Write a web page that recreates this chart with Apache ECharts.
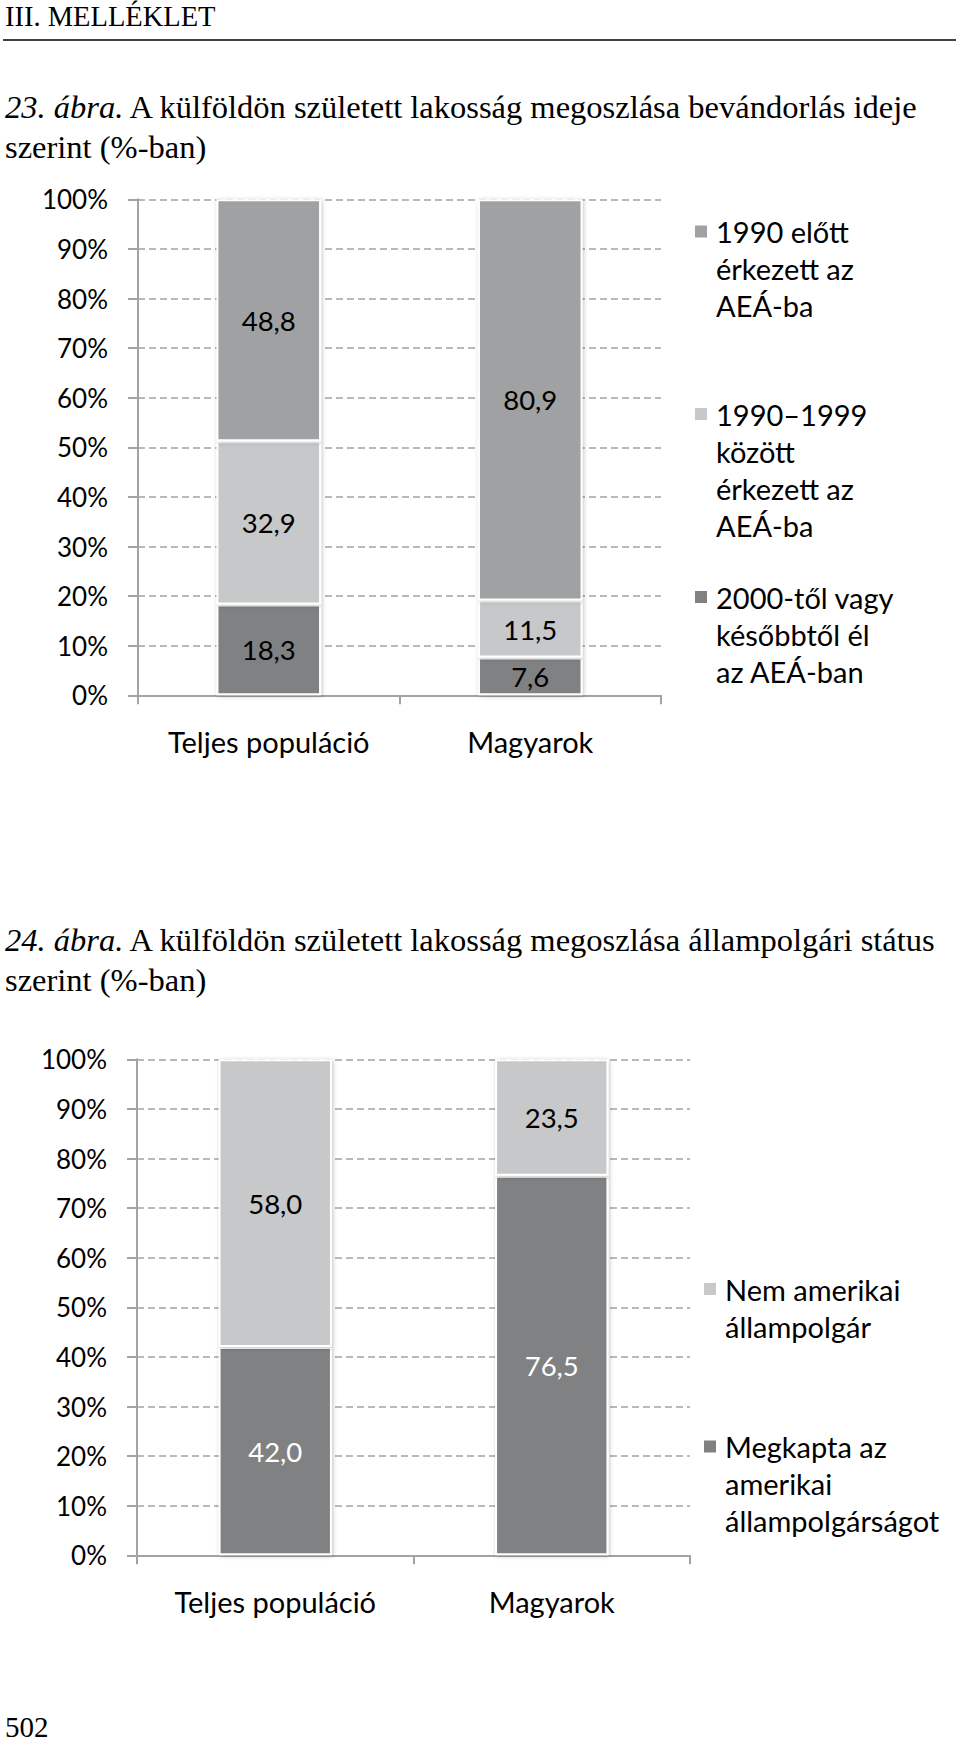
<!DOCTYPE html>
<html><head><meta charset="utf-8">
<script src="https://cdn.jsdelivr.net/npm/echarts@6/dist/echarts.min.js"></script>
<style>html,body{margin:0;padding:0;background:#fff}#c{width:960px;height:1744px}</style>
</head><body><div id="c"></div>
<script>
// ---------- data ----------
const categories = ['Teljes populáció', 'Magyarok'];
const yTickValues = [0, 10, 20, 30, 40, 50, 60, 70, 80, 90, 100];

// 23. ábra
const fig23Names = ['2000-től vagy későbbtől él az AEÁ-ban', '1990–1999 között érkezett az AEÁ-ba', '1990 előtt érkezett az AEÁ-ba'];
const fig23LegendLines = [['2000-től vagy', 'későbbtől él', 'az AEÁ-ban'], ['1990–1999', 'között', 'érkezett az', 'AEÁ-ba'], ['1990 előtt', 'érkezett az', 'AEÁ-ba']];
const fig23Since2000 = [18.3, 7.6];
const fig23Between = [32.9, 11.5];
const fig23Before1990 = [48.8, 80.9];

// 24. ábra
const fig24Names = ['Megkapta az amerikai állampolgárságot', 'Nem amerikai állampolgár'];
const fig24LegendLines = [['Megkapta az', 'amerikai', 'állampolgárságot'], ['Nem amerikai', 'állampolgár']];
const fig24Citizen = [42.0, 76.5];
const fig24NonCitizen = [58.0, 23.5];

// ---------- styles ----------
const SANS = 'Lato';
const SERIF = 'Liberation Serif, Times New Roman, serif';
const AXIS_C = '#a3a3a3';
const C_DARK = '#808182';
const C_MID = '#a0a1a2';
const C_LIGHT = '#c7c8c9';
const LH = 37;

const fmt = v => v.toFixed(1).replace('.', ',');

function yAxis(gi) {
  return {
    type: 'value', gridIndex: gi, min: 0, max: 100, interval: 10,
    axisLine: {show: true, lineStyle: {color: AXIS_C, width: 2}},
    axisTick: {show: true, length: 10, lineStyle: {color: AXIS_C, width: 2}},
    axisLabel: {formatter: '{value}%', margin: 30, fontFamily: SANS, fontSize: 26, color: '#000'},
    splitLine: {show: true, lineStyle: {type: [7, 4], color: AXIS_C, width: 1.5}}
  };
}
function xAxis(gi) {
  return {
    type: 'category', gridIndex: gi, data: categories,
    axisLine: {show: true, lineStyle: {color: AXIS_C, width: 2}},
    axisTick: {show: true, length: 9, alignWithLabel: false, lineStyle: {color: AXIS_C, width: 2}},
    axisLabel: {interval: 0, margin: 32, fontFamily: SANS, fontSize: 29, color: '#000'}
  };
}
function barSeries(name, data, color, gi, stack, width, labelColor) {
  return {
    type: 'bar', name, data, stack, xAxisIndex: gi, yAxisIndex: gi, barWidth: width,
    itemStyle: {color, borderColor: '#fff', borderWidth: 2, shadowBlur: 4, shadowColor: 'rgba(0,0,0,0.25)', shadowOffsetX: 1, shadowOffsetY: 1},
    label: {show: true, position: 'inside', formatter: p => fmt(p.value), fontFamily: SANS, fontSize: 27.5, color: labelColor},
    emphasis: {disabled: true}
  };
}
// legend text is centred on its icon, so n-1 blank lines are put above the text
// to bring its first line level with the icon
function legendFor(name, lines, left, iconCenterY) {
  const n = lines.length;
  const blanks = new Array(n - 1).fill('').join('\n') + (n > 1 ? '\n' : '');
  return {
    data: [name], left, top: iconCenterY - (2 * n - 1) * LH / 2,
    orient: 'vertical', padding: 0, itemWidth: 14, itemHeight: 14, icon: 'rect',
    selectedMode: false,
    formatter: () => blanks + lines.join('\n'),
    textStyle: {fontFamily: SANS, fontSize: 29, lineHeight: LH, color: '#000', padding: [0, 0, 0, 3]}
  };
}

const chart = echarts.init(document.getElementById('c'), null, {renderer: 'svg', width: 960, height: 1744});
chart.setOption({
  animation: false,
  backgroundColor: '#fff',
  grid: [
    {left: 138, top: 199.3, width: 523, height: 496},
    {left: 137, top: 1059.3, width: 553, height: 496}
  ],
  xAxis: [xAxis(0), xAxis(1)],
  yAxis: [yAxis(0), yAxis(1)],
  legend: [
    legendFor(fig23Names[2], fig23LegendLines[2], 693, 231.5),
    legendFor(fig23Names[1], fig23LegendLines[1], 693, 414),
    legendFor(fig23Names[0], fig23LegendLines[0], 693, 597),
    legendFor(fig24Names[1], fig24LegendLines[1], 702, 1289),
    legendFor(fig24Names[0], fig24LegendLines[0], 702, 1446.5)
  ],
  series: [
    barSeries(fig23Names[0], fig23Since2000, C_DARK, 0, 'a', '40%', '#000'),
    barSeries(fig23Names[1], fig23Between, C_LIGHT, 0, 'a', '40%', '#000'),
    barSeries(fig23Names[2], fig23Before1990, C_MID, 0, 'a', '40%', '#000'),
    barSeries(fig24Names[0], fig24Citizen, C_DARK, 1, 'b', '41%', '#fff'),
    barSeries(fig24Names[1], fig24NonCitizen, C_LIGHT, 1, 'b', '41%', '#000')
  ],
  graphic: [
    {type: 'text', left: 5, top: 2, style: {text: 'III. MELLÉKLET', fontFamily: SERIF, fontSize: 28.5, fill: '#000'}},
    {type: 'line', shape: {x1: 3, y1: 40, x2: 956, y2: 40}, style: {stroke: '#000', lineWidth: 1.5}},
    {type: 'text', left: 5, top: 87, style: {
      text: '{i|23. ábra.} A külföldön született lakosság megoszlása bevándorlás ideje\nszerint (%-ban)',
      fontFamily: SERIF, fontSize: 32.5, lineHeight: 40, fill: '#000',
      rich: {i: {fontStyle: 'italic', fontFamily: SERIF, fontSize: 32.5, lineHeight: 40}}}},
    {type: 'text', left: 5, top: 920, style: {
      text: '{i|24. ábra.} A külföldön született lakosság megoszlása állampolgári státus\nszerint (%-ban)',
      fontFamily: SERIF, fontSize: 32.5, lineHeight: 40, fill: '#000',
      rich: {i: {fontStyle: 'italic', fontFamily: SERIF, fontSize: 32.5, lineHeight: 40}}}},
    {type: 'text', left: 5, top: 1712, style: {text: '502', fontFamily: SERIF, fontSize: 29, lineHeight: 30, fill: '#000'}}
  ]
});
</script></body></html>
